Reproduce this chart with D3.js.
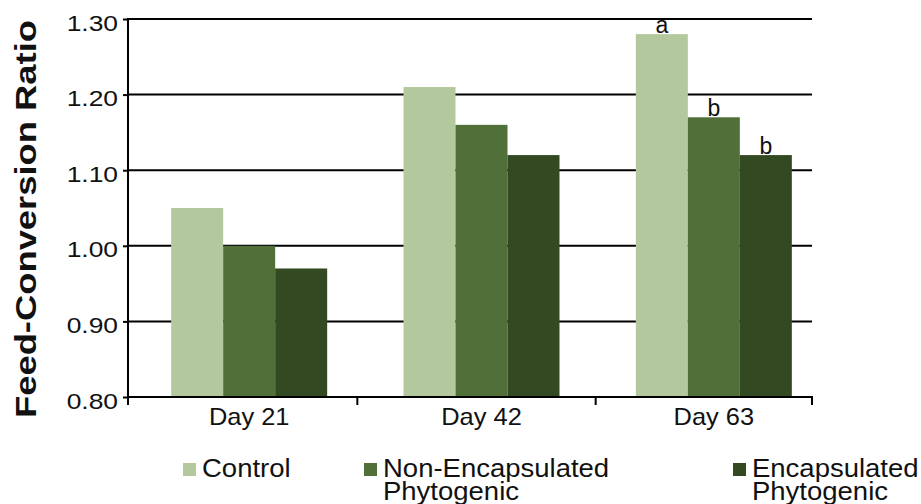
<!DOCTYPE html>
<html>
<head>
<meta charset="utf-8">
<script src="https://cdn.jsdelivr.net/npm/d3@7"></script>
<style>
  html, body { margin: 0; padding: 0; background: #fff; }
  svg { display: block; }
  text { font-family: "Liberation Sans", Arial, Helvetica, sans-serif; fill: #111; }
</style>
</head>
<body>
<svg id="chart" width="921" height="504"></svg>
<script>
const categories = ["Day 21", "Day 42", "Day 63"];
const seriesNames = ["Control", "Non-Encapsulated\nPhytogenic", "Encapsulated\nPhytogenic"];
const control = [1.05, 1.21, 1.28];
const nonEncapsulated = [1.00, 1.16, 1.17];
const encapsulated = [0.97, 1.12, 1.12];
const letters = [["", "", ""], ["", "", ""], ["a", "b", "b"]]; // per category, per series
const yTicks = [0.80, 0.90, 1.00, 1.10, 1.20, 1.30];
const colors = ["#b3c99d", "#516f38", "#334922"];

const series = [control, nonEncapsulated, encapsulated];
const svg = d3.select("#chart");

const plotLeft = 128, plotRight = 812, plotTop = 19, plotBottom = 397;

const y = d3.scaleLinear().domain([0.8, 1.3]).range([plotBottom, plotTop]);
const x = d3.scaleBand().domain(categories).range([133, 830]).paddingInner(0).paddingOuter(0);
const groupW = 156;
const xs = d3.scaleBand().domain(d3.range(3)).range([(x.bandwidth() - groupW) / 2, (x.bandwidth() + groupW) / 2]);

// y axis ticks + labels
const yAxis = d3.axisLeft(y).tickValues(yTicks).tickFormat(d3.format(".2f")).tickSize(5).tickPadding(10);
const gy = svg.append("g").attr("transform", `translate(${plotLeft},0)`).call(yAxis);
gy.select(".domain").remove();
gy.selectAll(".tick line").attr("stroke", "#000").attr("stroke-width", 2);
gy.selectAll(".tick text")
  .attr("font-size", 22)
  .attr("x", -10 / 1.2)
  .attr("dy", "0.5em")
  .attr("transform", "scale(1.2,1)")
  .style("font-family", "Liberation Sans, Arial, sans-serif")
  .attr("fill", "#111");

// gridlines
svg.append("g").selectAll("line").data(yTicks.slice(1)).join("line")
  .attr("x1", plotLeft).attr("x2", plotRight)
  .attr("y1", d => y(d)).attr("y2", d => y(d))
  .attr("stroke", "#000").attr("stroke-width", 2);

// bars
const groups = svg.append("g").selectAll("g").data(categories).join("g")
  .attr("transform", d => `translate(${x(d)},0)`);
groups.selectAll("rect")
  .data((d, ci) => series.map((s, si) => ({ si, v: s[ci] })))
  .join("rect")
  .attr("x", d => xs(d.si))
  .attr("width", xs.bandwidth())
  .attr("y", d => y(d.v))
  .attr("height", d => y(0.8) - y(d.v))
  .attr("fill", d => colors[d.si]);

// significance letters
groups.selectAll("text.sig")
  .data((d, ci) => series.map((s, si) => ({ si, v: s[ci], t: letters[ci][si] })))
  .join("text")
  .attr("class", "sig")
  .attr("x", d => xs(d.si) + xs.bandwidth() / 2)
  .attr("y", d => y(d.v) - 1)
  .attr("text-anchor", "middle")
  .attr("font-size", 23)
  .text(d => d.t);

// y axis line
svg.append("line").attr("x1", plotLeft).attr("x2", plotLeft)
  .attr("y1", plotTop - 1).attr("y2", plotBottom + 1)
  .attr("stroke", "#000").attr("stroke-width", 2);

// x axis labels
const xAxis = d3.axisBottom(x).tickSize(0).tickPadding(11);
const gx = svg.append("g").attr("transform", `translate(0,${plotBottom})`).call(xAxis);
gx.select(".domain").remove();
gx.selectAll(".tick text")
  .attr("font-size", 24)
  .attr("fill", "#111")
  .style("font-family", "Liberation Sans, Arial, sans-serif")
  .attr("transform", "scale(1.06,1)");
gx.selectAll(".tick").each(function(d) {
  const cx = x(d) + x.bandwidth() / 2;
  d3.select(this).attr("transform", `translate(${cx},0)`);
});

// x axis line and boundary ticks
svg.append("line").attr("x1", plotLeft - 1).attr("x2", plotRight + 1)
  .attr("y1", plotBottom).attr("y2", plotBottom)
  .attr("stroke", "#000").attr("stroke-width", 2);
const boundaries = [plotLeft, x(categories[1]) - 8, x(categories[2]) - 2, plotRight];
svg.append("g").selectAll("line").data(boundaries).join("line")
  .attr("x1", d => d).attr("x2", d => d)
  .attr("y1", plotBottom).attr("y2", plotBottom + 8)
  .attr("stroke", "#000").attr("stroke-width", 2);

// y title
svg.append("text")
  .attr("transform", `translate(36,219) rotate(-90)`)
  .attr("text-anchor", "middle")
  .attr("font-size", 29)
  .attr("font-weight", "bold")
  .attr("textLength", 398)
  .attr("lengthAdjust", "spacingAndGlyphs")
  .style("font-family", "Liberation Sans, Arial, sans-serif")
  .text("Feed-Conversion Ratio");

// legend
const legendX = [183, 364, 733];
const lg = svg.append("g").selectAll("g").data(seriesNames).join("g")
  .attr("transform", (d, i) => `translate(${legendX[i]},463)`);
lg.append("rect").attr("width", 13).attr("height", 13).attr("fill", (d, i) => colors[i]);
lg.append("text")
  .attr("transform", "translate(19,14) scale(1.1,1)")
  .attr("font-size", 25)
  .selectAll("tspan").data(d => d.split("\n")).join("tspan")
  .attr("x", 0)
  .attr("dy", (d, i) => i === 0 ? 0 : 23)
  .text(d => d);
</script>
</body>
</html>
